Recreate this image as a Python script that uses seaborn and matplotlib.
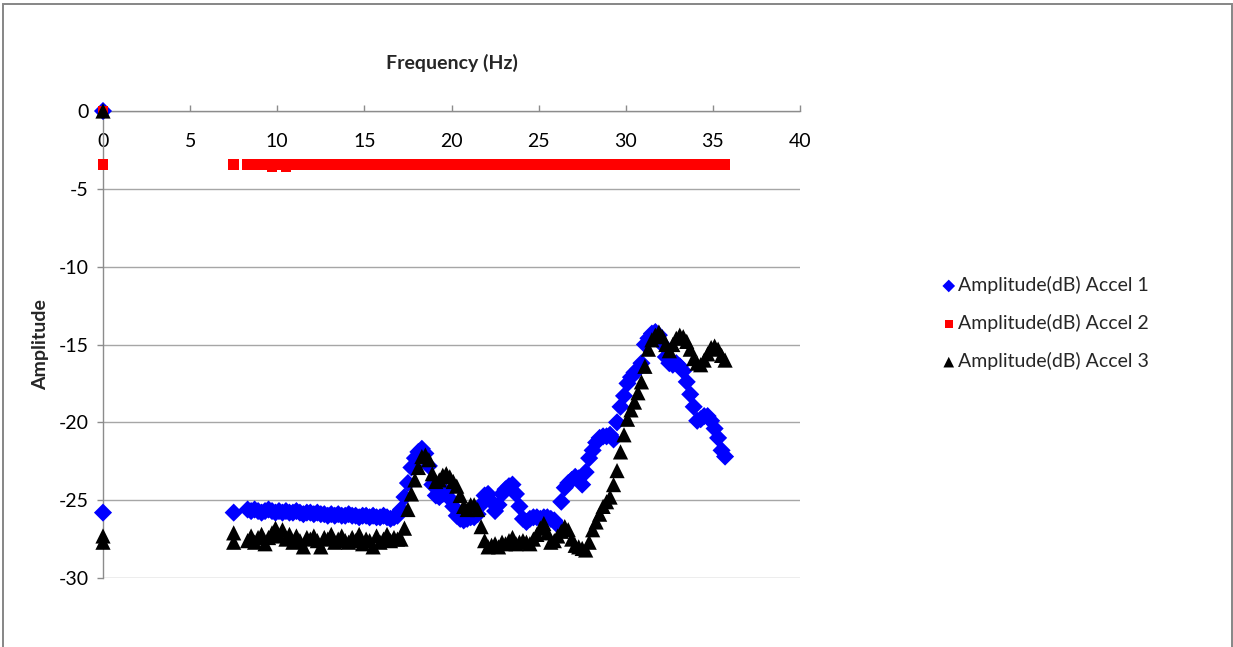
import numpy as np
import pandas as pd
import matplotlib
matplotlib.use("Agg")
import matplotlib.pyplot as plt
from matplotlib.patches import Rectangle
import seaborn as sns

# ---------------- data ----------------
freq = [
    8.3, 8.5, 8.7, 8.9, 9.1, 9.3, 9.5, 9.7, 9.9, 10.1,
    10.3, 10.5, 10.7, 10.9, 11.1, 11.3, 11.5, 11.7, 11.9, 12.1,
    12.3, 12.5, 12.7, 12.9, 13.1, 13.3, 13.5, 13.7, 13.9, 14.1,
    14.3, 14.5, 14.7, 14.9, 15.1, 15.3, 15.5, 15.7, 15.9, 16.1,
    16.3, 16.5, 16.7, 16.9, 17.1, 17.3, 17.5, 17.7, 17.9, 18.1,
    18.3, 18.5, 18.7, 18.9, 19.1, 19.3, 19.5, 19.7, 19.9, 20.1,
    20.3, 20.5, 20.7, 20.9, 21.1, 21.3, 21.5, 21.7, 21.9, 22.1,
    22.3, 22.5, 22.7, 22.9, 23.1, 23.3, 23.5, 23.7, 23.9, 24.1,
    24.3, 24.5, 24.7, 24.9, 25.1, 25.3, 25.5, 25.7, 25.9, 26.1,
    26.3, 26.5, 26.7, 26.9, 27.1, 27.3, 27.5, 27.7, 27.9, 28.1,
    28.3, 28.5, 28.7, 28.9, 29.1, 29.3, 29.5, 29.7, 29.9, 30.1,
    30.3, 30.5, 30.7, 30.9, 31.1, 31.3, 31.5, 31.7, 31.9, 32.1,
    32.3, 32.5, 32.7, 32.9, 33.1, 33.3, 33.5, 33.7, 33.9, 34.1,
    34.3, 34.5, 34.7, 34.9, 35.1, 35.3, 35.5, 35.7,
]

accel1 = [
    -25.6, -25.7, -25.6, -25.7, -25.8, -25.7, -25.6, -25.7, -25.8, -25.7,
    -25.8, -25.7, -25.8, -25.8, -25.7, -25.8, -25.9, -25.8, -25.8, -25.9,
    -25.8, -25.9, -25.9, -26.0, -25.9, -26.0, -25.9, -26.0, -26.0, -25.9,
    -26.0, -26.0, -26.1, -26.0, -26.0, -26.1, -26.0, -26.1, -26.1, -26.0,
    -26.1, -26.2, -26.1, -26.0, -25.6, -24.8, -23.9, -22.9, -22.3, -21.9,
    -21.7, -22.0, -22.8, -24.0, -24.7, -24.8, -24.6, -24.5, -24.9, -25.4,
    -26.0, -26.2, -26.3, -26.2, -26.1, -26.1, -25.9, -25.3, -24.7, -24.6,
    -25.1, -25.7, -25.3, -24.6, -24.3, -24.1, -24.0, -24.6, -25.4, -26.2,
    -26.4, -26.2, -26.1, -26.1, -26.2, -26.1, -26.1, -26.2, -26.3, -26.6,
    -25.1, -24.2, -23.9, -23.7, -23.5, -23.6, -24.0, -23.2, -22.3, -21.8,
    -21.3, -21.0, -20.9, -20.9, -20.8, -21.1, -20.0, -19.0, -18.3, -17.5,
    -17.1, -16.8, -16.6, -16.2, -15.0, -14.6, -14.3, -14.2, -14.4, -15.0,
    -15.8, -16.2, -16.3, -16.2, -16.4, -16.7, -17.4, -18.2, -19.0, -19.9,
    -19.8, -19.6, -19.6, -19.9, -20.4, -21.0, -21.8, -22.2,
]

accel2 = [
    -3.45, -3.45, -3.45, -3.45, -3.45, -3.45, -3.45, -3.55, -3.45, -3.45,
    -3.45, -3.55, -3.45, -3.45, -3.45, -3.45, -3.45, -3.45, -3.45, -3.45,
    -3.45, -3.45, -3.45, -3.45, -3.45, -3.45, -3.45, -3.45, -3.45, -3.45,
    -3.45, -3.45, -3.45, -3.45, -3.45, -3.45, -3.45, -3.45, -3.45, -3.45,
    -3.45, -3.45, -3.45, -3.45, -3.45, -3.45, -3.45, -3.45, -3.45, -3.45,
    -3.45, -3.45, -3.45, -3.45, -3.45, -3.45, -3.45, -3.45, -3.45, -3.45,
    -3.45, -3.45, -3.45, -3.45, -3.45, -3.45, -3.45, -3.45, -3.45, -3.45,
    -3.45, -3.45, -3.45, -3.45, -3.45, -3.45, -3.45, -3.45, -3.45, -3.45,
    -3.45, -3.45, -3.45, -3.45, -3.45, -3.45, -3.45, -3.45, -3.45, -3.45,
    -3.45, -3.45, -3.45, -3.45, -3.45, -3.45, -3.45, -3.45, -3.45, -3.45,
    -3.45, -3.45, -3.45, -3.45, -3.45, -3.45, -3.45, -3.45, -3.45, -3.45,
    -3.45, -3.45, -3.45, -3.45, -3.45, -3.45, -3.45, -3.45, -3.45, -3.45,
    -3.45, -3.45, -3.45, -3.45, -3.45, -3.45, -3.45, -3.45, -3.45, -3.45,
    -3.45, -3.45, -3.45, -3.45, -3.45, -3.45, -3.45, -3.45,
]

accel3 = [
    -27.6, -27.3, -27.7, -27.4, -27.2, -27.8, -27.4, -27.1, -26.8, -27.3,
    -26.9, -27.5, -27.2, -27.7, -27.3, -27.6, -28.0, -27.4, -27.5, -27.3,
    -27.6, -28.0, -27.4, -27.5, -27.2, -27.7, -27.5, -27.3, -27.6, -27.7,
    -27.4, -27.6, -27.2, -27.8, -27.5, -27.6, -28.0, -27.3, -27.7, -27.5,
    -27.2, -27.6, -27.4, -27.5, -27.5, -26.8, -25.6, -24.6, -23.7, -22.9,
    -22.2, -22.1, -22.4, -23.3, -23.8, -23.7, -23.4, -23.3, -23.5, -23.8,
    -24.1, -24.7, -25.4, -25.6, -25.3, -25.3, -25.6, -26.7, -27.6, -28.0,
    -27.9, -27.8, -28.0, -27.7, -27.8, -27.6, -27.4, -27.8, -27.7, -27.6,
    -27.7, -27.8, -27.5, -27.2, -26.8, -26.5, -27.1, -27.7, -27.6, -27.3,
    -27.0, -26.7, -26.9, -27.5, -27.9, -28.0, -28.1, -28.2, -27.7, -26.9,
    -26.4, -25.9, -25.4, -25.1, -24.8, -24.0, -23.1, -21.9, -20.8, -19.8,
    -19.2, -18.7, -18.1, -17.4, -16.4, -15.3, -14.7, -14.4, -14.2, -14.5,
    -15.0, -15.4, -15.0, -14.6, -14.4, -14.5, -14.8, -15.3, -15.9, -16.2,
    -16.3, -16.0, -15.6, -15.2, -15.1, -15.3, -15.7, -16.0,
]

# isolated early readings (x = 0 Hz and 7.5 Hz)
accel1_x0 = [0.0, 0.0, 7.5]
accel1_y0 = [0.0, -25.8, -25.8]
accel2_x0 = [0.0, 0.0, 7.5]
accel2_y0 = [0.0, -3.45, -3.45]
accel3_x0 = [0.0, 0.0, 0.0, 7.5, 7.5]
accel3_y0 = [0.0, -27.3, -27.7, -27.1, -27.7]

series_names = ["Amplitude(dB) Accel 1", "Amplitude(dB) Accel 2", "Amplitude(dB) Accel 3"]
x_ticks = [0, 5, 10, 15, 20, 25, 30, 35, 40]
y_ticks = [0, -5, -10, -15, -20, -25, -30]

# ---------------- styling ----------------
sns.set_style("white")
plt.rcParams["font.family"] = ["Lato", "DejaVu Sans"]

W, H = 1233, 647
fig = plt.figure(figsize=(W / 100, H / 100), dpi=100)
x0px, x1px, y0px, y1px = 103, 800, 111, 578
ax = fig.add_axes([x0px / W, 1 - y1px / H, (x1px - x0px) / W, (y1px - y0px) / H])

grey = "#a6a6a6"
axis_grey = "#8c8c8c"
fs = 14

specs = [
    (accel1_x0 + freq, accel1_y0 + accel1, "#0000ff", "D", 85, series_names[0]),
    (accel2_x0 + freq, accel2_y0 + accel2, "#ff0000", "s", 60, series_names[1]),
    (accel3_x0 + freq, accel3_y0 + accel3, "#000000", "^", 120, series_names[2]),
]
for xs, ys, col, mk, sz, name in specs:
    df = pd.DataFrame({"Frequency (Hz)": xs, "Amplitude": ys})
    sns.scatterplot(data=df, x="Frequency (Hz)", y="Amplitude", color=col, marker=mk,
                    s=sz, linewidth=0, edgecolor="none", ax=ax, label=name, zorder=3)
for coll in ax.collections:
    coll.set_clip_on(False)

ax.set_xlim(0, 40)
ax.set_ylim(-30, 0)
ax.set_xticks(x_ticks)
ax.set_yticks(y_ticks)
ax.set_xticklabels([str(t) for t in x_ticks])
ax.set_yticklabels([str(t) for t in y_ticks])

ax.yaxis.grid(True, color=grey, linewidth=1.0)
ax.xaxis.grid(False)
ax.set_axisbelow(True)

for s in ["top", "right"]:
    ax.spines[s].set_visible(False)
ax.spines["bottom"].set_position(("data", 0))
ax.spines["bottom"].set_color(axis_grey)
ax.spines["left"].set_color(axis_grey)
ax.spines["bottom"].set_linewidth(1.0)
ax.spines["left"].set_linewidth(1.0)
ax.spines["bottom"].set_zorder(2)

ax.tick_params(axis="x", direction="in", length=4, width=1, color=axis_grey,
               labelsize=fs, pad=16, labelcolor="black", bottom=True)
ax.tick_params(axis="y", direction="out", length=4.5, width=1, color=axis_grey,
               labelsize=fs, pad=6, labelcolor="black", left=True)

ax.set_xlabel("Frequency (Hz)", fontsize=fs, fontweight="bold")
ax.xaxis.set_label_position("top")
ax.xaxis.set_label_coords(0.5, 1.09)
ax.set_ylabel("Amplitude", fontsize=fs, fontweight="bold")
ax.yaxis.set_label_coords(-0.078, 0.5)

leg = ax.legend(loc="upper left", bbox_to_anchor=(940 / W, 1 - 276 / H),
                bbox_transform=fig.transFigure, frameon=False, fontsize=fs,
                handletextpad=0.05, handlelength=0.9, labelspacing=1.03,
                markerscale=0.7, borderaxespad=0, borderpad=0)

fig.patches.append(Rectangle((2.5 / W, -0.02), (1231.5 - 2.5) / W, 1.02 - 3.5 / H,
                             transform=fig.transFigure, fill=False,
                             edgecolor="#868686", linewidth=1.4))

fig.savefig("out.png", dpi=100)
